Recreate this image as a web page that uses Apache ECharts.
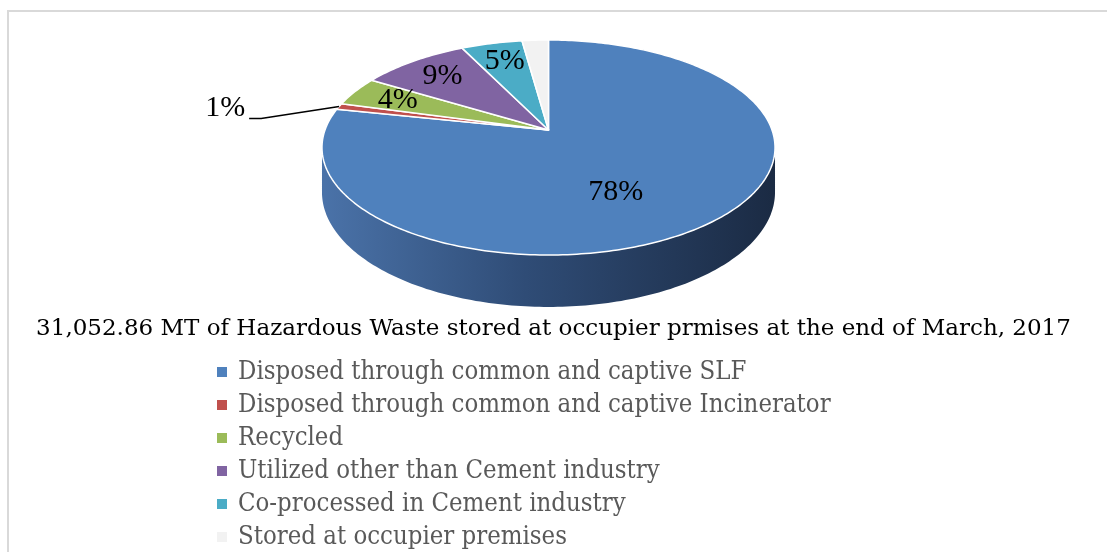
<!DOCTYPE html>
<html>
<head>
<meta charset="utf-8">
<script src="https://cdn.jsdelivr.net/npm/echarts@6/dist/echarts.min.js"></script>
<style>
  html, body { margin: 0; padding: 0; background: #fff; }
  #main { width: 1107px; height: 552px; }
</style>
</head>
<body>
<div id="main"></div>
<script>
// waste categories, share of the total in percent
const categories = [
  'Disposed through common and captive SLF',
  'Disposed through common and captive Incinerator',
  'Recycled',
  'Utilized other than Cement industry',
  'Co-processed in Cement industry',
  'Stored at occupier premises'
];
const values = [78.3, 0.9, 4.4, 9.1, 5.1, 2.2];
const sliceLabels = ['78%', '1%', '4%', '9%', '5%', ''];
const colors = ['#4F81BD', '#C0504D', '#9BBB59', '#8064A2', '#4BACC6', '#F2F2F2'];

const titleText = '31,052.86 MT of Hazardous Waste stored at occupier prmises at the end of March, 2017';

// tilted pie geometry (simple perspective)
const CX = 548.5, CY = 130, RX = 223.5, TILT = 83.49, PERSP = 0.1628, DEPTH = 43.5;
const total = values.reduce((a, b) => a + b, 0);

function proj(theta, f, z) {
  let u = f * Math.sin(theta), v = f * Math.cos(theta);
  let d = 1 + PERSP * v;
  return [CX + RX * u / d, (CY - TILT * v + z * DEPTH) / d];
}

function arc(a0, a1, z) {
  let pts = [];
  let n = Math.max(2, Math.ceil((a1 - a0) / (Math.PI / 180)));
  for (let k = 0; k <= n; k++) {
    pts.push(proj(a0 + (a1 - a0) * k / n, 1, z));
  }
  return pts;
}

// front part of the rim, between the two silhouette points
const sideFrom = Math.acos(-PERSP);
const sideTo = 2 * Math.PI - sideFrom;

const sideFill = new echarts.graphic.LinearGradient(CX - RX, 0, CX + RX, 0, [
  { offset: 0, color: '#4A72A8' },
  { offset: 0.45, color: '#2F4C76' },
  { offset: 1, color: '#1B2B44' }
], true);

function makeRender(i) {
  return function (params, api) {
    let before = 0;
    for (let k = 0; k < i; k++) before += values[k];
    let val = api.value(0);
    let a0 = before / total * Math.PI * 2;
    let a1 = (before + val) / total * Math.PI * 2;
    let children = [];

    // outer rim
    let s0 = Math.max(a0, sideFrom), s1 = Math.min(a1, sideTo);
    if (s1 > s0) {
      let top = arc(s0, s1, 0);
      let bottom = arc(s0, s1, 1).reverse();
      children.push({
        type: 'polygon',
        z2: 1,
        shape: { points: top.concat(bottom) },
        style: { fill: sideFill, stroke: null }
      });
    }

    // top face
    children.push({
      type: 'polygon',
      z2: 10,
      shape: { points: [proj(0, 0, 0)].concat(arc(a0, a1, 0)) },
      style: { fill: colors[i], stroke: '#fff', lineWidth: 1.5, lineJoin: 'round' }
    });

    // percentage label
    let text = sliceLabels[i];
    if (text) {
      let mid = (a0 + a1) / 2;
      let share = val / total;
      let labelStyle = {
        text: text,
        fontFamily: 'Liberation Serif',
        fontSize: 30,
        fill: '#000'
      };
      if (share > 0.5) {
        let p = proj(mid, 0.45, 0.5);
        children.push({ type: 'text', z2: 20, x: p[0], y: p[1],
          style: Object.assign({ align: 'center', verticalAlign: 'middle' }, labelStyle) });
      } else if (share >= 0.02) {
        let p = proj(mid, 0.78, 0);
        children.push({ type: 'text', z2: 20, x: p[0] + 2, y: p[1] + 1,
          style: Object.assign({ align: 'center', verticalAlign: 'middle' }, labelStyle) });
      } else {
        // outside label with leader line
        let p0 = proj(mid, 1, 0);
        let p1 = [p0[0] - 78, p0[1] + 12];
        let p2 = [p1[0] - 12, p1[1]];
        children.push({
          type: 'polyline', z2: 20,
          shape: { points: [p0, p1, p2] },
          style: { stroke: '#000', lineWidth: 1.5, fill: null }
        });
        children.push({ type: 'text', z2: 20, x: p2[0] - 4, y: p2[1] - 10,
          style: Object.assign({ align: 'right', verticalAlign: 'middle' }, labelStyle) });
      }
    }
    return { type: 'group', children: children };
  };
}

const series = categories.map(function (name, i) {
  return {
    type: 'custom',
    name: name,
    coordinateSystem: 'none',
    itemStyle: { color: colors[i] },
    data: [values[i]],
    renderItem: makeRender(i),
    silent: true,
    animation: false
  };
});

const chart = echarts.init(document.getElementById('main'));
chart.setOption({
  backgroundColor: '#fff',
  animation: false,
  title: {
    text: titleText,
    left: 'center',
    top: 313,
    textStyle: { fontFamily: 'DejaVu Serif', fontSize: 23, fontWeight: 'normal', color: '#000' }
  },
  legend: {
    orient: 'vertical',
    left: 212,
    top: 352,
    height: 240,
    icon: 'rect',
    itemWidth: 10,
    itemHeight: 10,
    itemGap: 3,
    selectedMode: false,
    data: categories,
    formatter: function (name) { return '{t|' + name + '}'; },
    textStyle: {
      fontFamily: 'DejaVu Serif Condensed, DejaVu Serif',
      fontSize: 25.5,
      color: '#595959',
      lineHeight: 30,
      rich: { t: { padding: [0, 0, 0, 6], fontFamily: 'DejaVu Serif Condensed, DejaVu Serif', fontSize: 25.5, color: '#595959', lineHeight: 30 } }
    }
  },
  graphic: [{
    type: 'rect',
    shape: { x: 8, y: 11, width: 1200, height: 600 },
    style: { fill: null, stroke: '#D9D9D9', lineWidth: 2 },
    silent: true
  }],
  series: series
});
</script>
</body>
</html>
